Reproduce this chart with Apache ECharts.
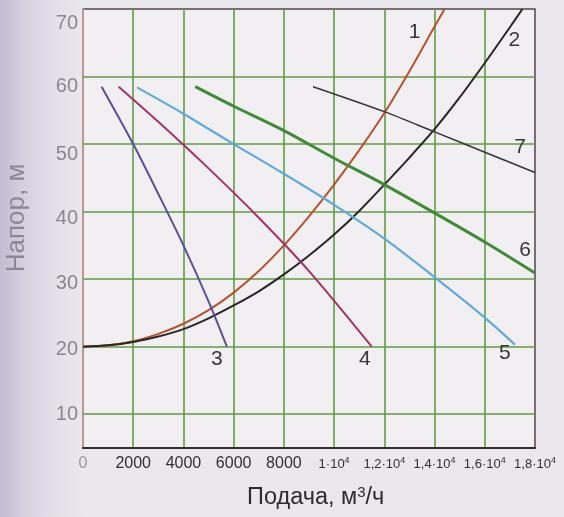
<!DOCTYPE html>
<html>
<head>
<meta charset="utf-8">
<script src="https://cdn.jsdelivr.net/npm/echarts@6/dist/echarts.min.js"></script>
<style>
  html, body { margin: 0; padding: 0; }
  body {
    width: 564px; height: 517px;
    background: linear-gradient(to right, #c3bcd3 0px, #d5cfdf 22px, #e3dfe9 50px, #eae7ed 85px, #ebe8ed 100%);
  }
  #chart { width: 564px; height: 517px; }
</style>
</head>
<body>
<div id="chart"></div>
<script>
// Pump head curves H(Q): flow in m³/h, head in m
const pump1 = [[0, 20], [1000, 20.2], [2000, 20.8], [3000, 21.9], [4000, 23.4], [5000, 25.4], [6000, 28],
  [7000, 31.2], [8000, 35], [9000, 39.3], [10000, 44], [11000, 49.1], [12000, 54.6], [13000, 60.8],
  [14000, 67.4], [14400, 70]];
const pump2 = [[0, 20], [1000, 20.2], [2000, 20.7], [3000, 21.5], [4000, 22.6], [5000, 24.2], [6000, 26.1],
  [7000, 28.2], [8000, 30.7], [9000, 33.5], [10000, 36.6], [11000, 40.1], [12000, 44], [13000, 48],
  [14000, 52.2], [15000, 56.9], [16000, 62], [17000, 67.3], [17500, 70]];
const pump3 = [[740, 58.5], [2000, 50], [3000, 42.6], [4000, 35], [5000, 26.7], [5730, 20]];
const pump4 = [[1420, 58.5], [3000, 53.3], [5000, 46.4], [7000, 39.1], [9000, 31.2], [11500, 20]];
const pump5 = [[2150, 58.4], [4000, 54.5], [6000, 50], [8000, 45.6], [10000, 41], [12000, 36],
  [14000, 30.3], [16000, 24.3], [17200, 20.3]];
const pump6 = [[4470, 58.5], [6000, 55.6], [8000, 52], [10000, 47.9], [12000, 44], [14000, 39.8],
  [16000, 35.5], [18000, 30.9]];
const pump7 = [[9160, 58.5], [12000, 54.8], [14000, 51.8], [16000, 48.8], [18000, 45.8]];

// Axis ranges and gridline levels
const flowMin = 0, flowMax = 18000, flowStep = 2000;
const headMin = 5, headMax = 70;
const headLevels = [10, 20, 30, 40, 50, 60];

const gridGreen = '#5f9d44';
const fontFam = 'Liberation Sans, Arial, sans-serif';

// Curve appearance and where each number tag sits relative to the curve's last point
const curveStyles = [
  { tag: '1', data: pump1, color: '#b5532e', width: 2,   tagOffset: [-30, 23] },
  { tag: '2', data: pump2, color: '#2c2526', width: 2,   tagOffset: [-8, 31] },
  { tag: '3', data: pump3, color: '#5b4f98', width: 2,   tagOffset: [-10, 13] },
  { tag: '4', data: pump4, color: '#a5306b', width: 2,   tagOffset: [-7, 13] },
  { tag: '5', data: pump5, color: '#5eaadc', width: 2.2, tagOffset: [-10, 9] },
  { tag: '6', data: pump6, color: '#3f8b36', width: 3,   tagOffset: [-10, -23] },
  { tag: '7', data: pump7, color: '#393436', width: 1.5, tagOffset: [-15, -25] }
];

const series = curveStyles.map((c, i) => ({
  type: 'line',
  name: c.tag,
  data: c.data,
  smooth: 0.3,
  showSymbol: false,
  symbol: 'none',
  clip: true,
  z: 3,
  lineStyle: { color: c.color, width: c.width },
  markPoint: {
    symbol: 'circle',
    symbolSize: 1,
    itemStyle: { color: 'rgba(0,0,0,0)' },
    silent: true,
    data: [{ coord: c.data[c.data.length - 1], value: c.tag }],
    label: {
      show: true,
      position: 'inside',
      offset: c.tagOffset,
      formatter: c.tag,
      fontFamily: fontFam,
      fontSize: 21,
      color: '#3a3637'
    }
  },
  markLine: i === 0 ? {
    silent: true,
    symbol: 'none',
    z: 1,
    animation: false,
    label: { show: false },
    lineStyle: { color: gridGreen, width: 1.6, type: 'solid' },
    data: headLevels.map(v => ({ yAxis: v }))
  } : undefined
}));

// y labels drift slightly lower toward the top of the scale
const yLabelShift = { 10: 0.5, 20: 2.5, 30: 4, 40: 7, 50: 10, 60: 10, 70: 14 };
const yRich = {};
Object.keys(yLabelShift).forEach(v => {
  const d = yLabelShift[v];
  yRich['t' + v] = {
    fontSize: 20,
    color: '#8b8790',
    fontFamily: fontFam,
    padding: d >= 0 ? [2 * d, 0, 0, 0] : [0, 0, -2 * d, 0]
  };
});

const chart = echarts.init(document.getElementById('chart'), null, { renderer: 'canvas' });
chart.setOption({
  animation: false,
  backgroundColor: 'transparent',
  grid: {
    left: 83, right: 29, top: 9, bottom: 69,
    show: true,
    backgroundColor: '#f2eff3',
    borderColor: '#544648',
    borderWidth: 1.5
  },
  xAxis: {
    type: 'value',
    min: flowMin, max: flowMax, interval: flowStep,
    axisLine: { show: true, onZero: false, lineStyle: { color: '#3a2c2c', width: 2 } },
    axisTick: { show: false },
    splitLine: { show: true, showMinLine: false, showMaxLine: false, lineStyle: { color: gridGreen, width: 1.6 } },
    axisLabel: {
      margin: 8,
      formatter: v => {
        if (v === 0) return '{z|0}';
        if (v < 10000) return '{n|' + v + '}';
        const m = String(v / 10000).replace('.', ',');
        return '{p|' + m + '·10}{s|4}';
      },
      rich: {
        z: { fontSize: 16, color: '#9c98a0', fontFamily: fontFam },
        n: { fontSize: 16, color: '#333033', fontFamily: fontFam },
        p: { fontSize: 13, color: '#333033', fontFamily: fontFam, lineHeight: 16 },
        s: { fontSize: 9, color: '#333033', fontFamily: fontFam, verticalAlign: 'top', lineHeight: 16 }
      }
    }
  },
  yAxis: {
    type: 'value',
    min: headMin, max: headMax, interval: 5,
    axisLine: { show: true, lineStyle: { color: '#b89a92', width: 2 } },
    axisTick: { show: false },
    splitLine: { show: false },
    axisLabel: {
      margin: 5,
      formatter: v => (v % 10 === 0 ? '{t' + v + '|' + v + '}' : ''),
      rich: yRich
    }
  },
  graphic: [
    {
      type: 'text',
      left: 247, top: 485,
      style: {
        text: '{a|Подача, м}{b|3}{a|/ч}',
        rich: {
          a: { fontSize: 23.5, fill: '#2f2c2f', fontFamily: fontFam, lineHeight: 26 },
          b: { fontSize: 15, fill: '#2f2c2f', fontFamily: fontFam, verticalAlign: 'top', lineHeight: 26 }
        }
      }
    },
    {
      type: 'text',
      x: 17, y: 218,
      rotation: Math.PI / 2,
      style: {
        text: 'Напор, м',
        fontSize: 26,
        fill: '#8c8795',
        fontFamily: fontFam,
        align: 'center',
        verticalAlign: 'middle'
      }
    }
  ],
  series: series
});
</script>
</body>
</html>
